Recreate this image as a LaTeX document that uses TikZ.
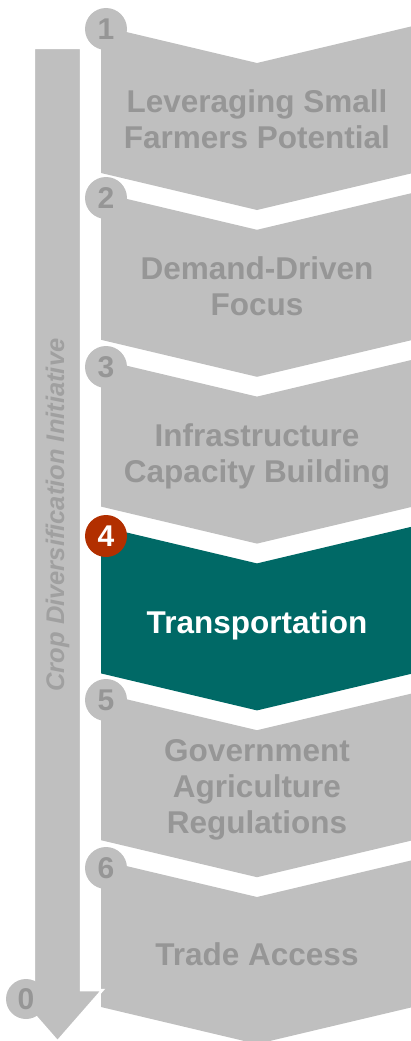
\documentclass[tikz,border=0pt]{standalone}
\usepackage{fontspec}
\setmainfont{Liberation Sans}
\definecolor{chev}{HTML}{BFBFBF}
\definecolor{chevtxt}{HTML}{969696}
\definecolor{sidetxt}{HTML}{A0A0A0}
\definecolor{tealfill}{HTML}{006966}
\definecolor{redfill}{HTML}{B22F00}
\begin{document}
\begin{tikzpicture}[x=1pt,y=-1pt,
  chevshape/.style={fill=chev},
  lbl/.style={font=\bfseries\fontsize{31.5}{36}\selectfont, text=chevtxt, align=center, inner sep=0pt, anchor=base},
  num/.style={circle, fill=chev, minimum size=42pt, inner sep=0pt, text=chevtxt, font=\bfseries\fontsize{30}{30}\selectfont},
  sidelbl/.style={rotate=90, font=\bfseries\itshape\fontsize{25.5}{25.5}\selectfont, text=sidetxt, inner sep=0pt}]
\useasboundingbox (0,0) rectangle (411,1041);
\clip (0,0) rectangle (411,1041);
% chevrons
\foreach \i in {0,1,2,3,4,5}{
  \pgfmathsetmacro{\T}{26+166.8*\i}
  \ifnum\i=3
    \fill[tealfill] (101,\T) -- (257,\T+37) -- (413,\T) -- (413,\T+147) -- (257,\T+184) -- (101,\T+147) -- cycle;
  \else
    \fill[chev] (101,\T) -- (257,\T+37) -- (413,\T) -- (413,\T+147) -- (257,\T+184) -- (101,\T+147) -- cycle;
  \fi
}
% labels (base anchor = baseline of the last line)
\node[lbl] (t1) at (257,148) {Leveraging Small\\Farmers Potential};
\node[lbl] (t2) at (257,315) {Demand-Driven\\Focus};
\node[lbl] (t3) at (257,482) {Infrastructure\\Capacity Building};
\node[lbl, text=white] (t4) at (257,633) {Transportation};
\node[lbl] (t5) at (257,833) {Government\\Agriculture\\Regulations};
\node[lbl] (t6) at (257,965) {Trade Access};
% number circles
\node[num] (n1) at (106,29) {1};
\node[num] (n2) at (106,198) {2};
\node[num] (n3) at (106,367) {3};
\node[num, fill=redfill, text=white] (n4) at (106,536) {4};
\node[num] (n5) at (106,700) {5};
\node[num] (n6) at (106,868) {6};
% down arrow
\filldraw[fill=chev, draw=white, line width=2.5pt, line join=miter]
  (33.8,47.8) -- (81.2,47.8) -- (81.2,990) -- (102.5,990) -- (57.5,1041.5) -- (12.5,990) -- (33.8,990) -- cycle;
\node[sidelbl] (side) at (57.5,515) {Crop Diversification Initiative};
\node[num, minimum size=40pt] (n0) at (26,999) {0};
\end{tikzpicture}
\end{document}
